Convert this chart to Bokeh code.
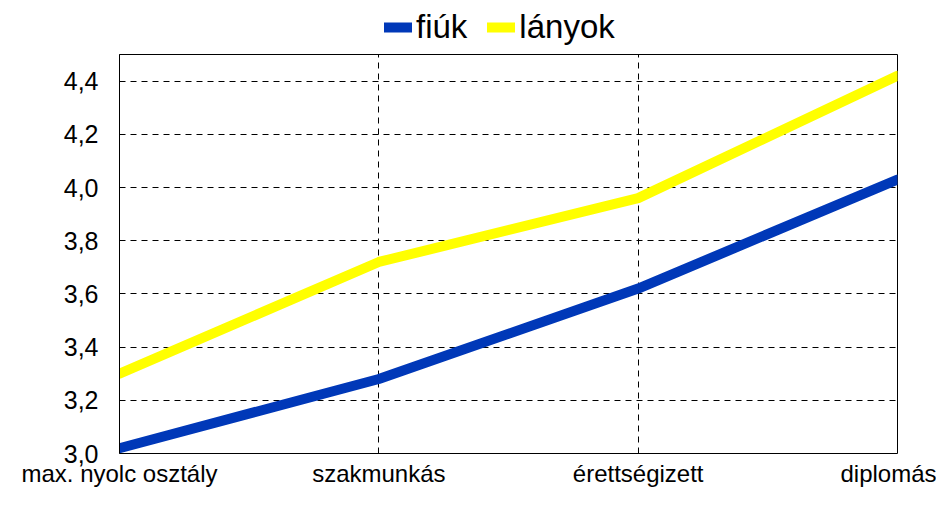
from bokeh.plotting import figure
from bokeh.layouts import column
from bokeh.models import FixedTicker, Legend, LegendItem, Range1d
from bokeh.embed import file_html
from bokeh.resources import INLINE

categories = ["max. nyolc osztály", "szakmunkás", "érettségizett", "diplomás"]
fiuk = [3.02, 3.28, 3.62, 4.03]
lanyok = [3.30, 3.72, 3.96, 4.42]
y_ticks = [3.0, 3.2, 3.4, 3.6, 3.8, 4.0, 4.2, 4.4]
y_tick_labels = ["3,0", "3,2", "3,4", "3,6", "3,8", "4,0", "4,2", "4,4"]
series_names = ["fiúk", "lányok"]
colors = ["#0038B8", "#FFFF00"]

xs = list(range(len(categories)))
FONT = "Liberation Sans"
NAN = float("nan")

# ---- legend strip on top ----
lg = figure(width=936, height=46, output_backend="svg", toolbar_location=None,
            x_range=Range1d(0, 1), y_range=Range1d(0, 1),
            min_border_left=119, min_border_right=39, min_border_top=0, min_border_bottom=0)
lg.axis.visible = False
lg.grid.visible = False
lg.outline_line_color = None
lg.border_fill_color = "white"
lr1 = lg.line(x=[NAN], y=[NAN], line_color=colors[0], line_width=10, line_cap="round")
lr2 = lg.line(x=[NAN], y=[NAN], line_color=colors[1], line_width=10, line_cap="round")
legend = Legend(items=[LegendItem(label=series_names[0], renderers=[lr1]),
                       LegendItem(label=series_names[1], renderers=[lr2])],
                orientation="horizontal", location=(265, 0),
                padding=0, margin=0, spacing=20, glyph_width=28, glyph_height=34,
                label_standoff=4, label_text_font=FONT, label_text_font_size="33px",
                label_text_color="black", border_line_alpha=0, background_fill_alpha=0)
lg.add_layout(legend, "center")

# ---- main chart ----
p = figure(width=936, height=443, output_backend="svg", toolbar_location=None,
           x_range=Range1d(0, len(categories) - 1), y_range=Range1d(3.0, 4.5),
           min_border_left=119, min_border_right=39, min_border_top=8, min_border_bottom=24)
p.background_fill_color = "white"
p.border_fill_color = "white"
p.outline_line_color = "black"
p.outline_line_width = 1

p.line(xs, fiuk, line_color=colors[0], line_width=10, line_cap="round", line_join="round")
p.line(xs, lanyok, line_color=colors[1], line_width=10, line_cap="round", line_join="round")

p.xaxis.ticker = FixedTicker(ticks=xs)
p.xaxis.major_label_overrides = {i: c for i, c in zip(xs, categories)}
p.xaxis.axis_line_color = None
p.xaxis.major_tick_line_color = None
p.xaxis.minor_tick_line_color = None
p.xaxis.major_label_text_font = FONT
p.xaxis.major_label_text_font_size = "24px"
p.xaxis.major_label_text_color = "black"
p.xaxis.major_label_standoff = 0

p.yaxis.ticker = FixedTicker(ticks=y_ticks)
p.yaxis.major_label_overrides = {t: l for t, l in zip(y_ticks, y_tick_labels)}
p.yaxis.axis_line_color = "black"
p.yaxis.major_tick_line_color = None
p.yaxis.minor_tick_line_color = None
p.yaxis.major_label_text_font = FONT
p.yaxis.major_label_text_font_size = "25px"
p.yaxis.major_label_text_color = "black"
p.yaxis.major_label_standoff = 15

p.xgrid.grid_line_color = "black"
p.xgrid.grid_line_dash = "6 5"
p.ygrid.grid_line_color = "black"
p.ygrid.grid_line_dash = "6 5"

layout = column(lg, p, spacing=0)
open("out.html", "w").write(file_html(layout, INLINE))
